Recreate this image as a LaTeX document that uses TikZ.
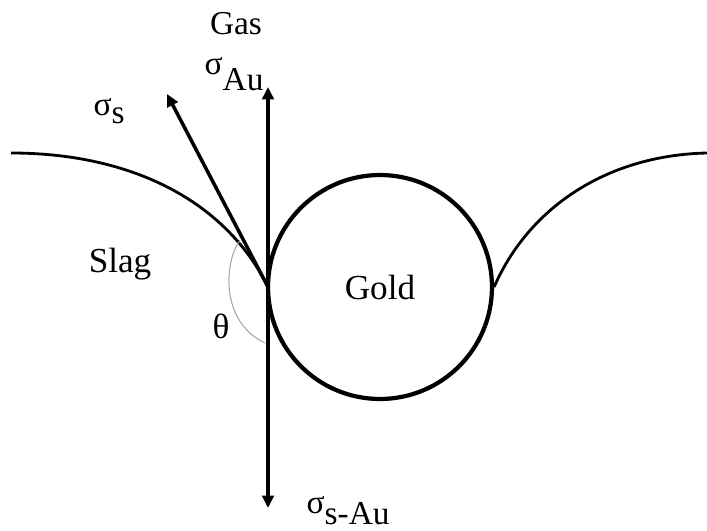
\documentclass[tikz,border=0pt]{standalone}
\usepackage{fontspec}
\setmainfont{Liberation Serif}
\usetikzlibrary{positioning, calc, arrows.meta}
\tikzset{every picture/.append style={thick}}
\tikzset{
  force/.style={line width=2pt, -{Triangle[length=7pt, width=6.5pt]}},
  surface/.style={line width=1.6pt},
  biglabel/.style={font=\fontsize{20}{22}\selectfont, inner sep=0pt},
  smalllabel/.style={font=\fontsize{19}{21}\selectfont, inner sep=0pt}
}

\begin{document}
\begin{tikzpicture}[x=0.02cm, y=-0.02cm, thick]
    \useasboundingbox (0,0) rectangle (707,531);

    % Contact point and arrow ends
    \coordinate (contact) at (268,287);
    \coordinate (tipAu) at (268,87);
    \coordinate (tipSAu) at (268,508);
    \coordinate (tipS) at (167,94);

    % Gold droplet
    \node[circle, draw, line width=2.4pt, minimum size=4.48cm, biglabel] (gold) at (380,287) {Gold};

    % Slag surface, left and right
    \draw[surface] (11,153) .. controls (130,153) and (225,200) .. (contact);
    \draw[surface] (gold.east) .. controls (530,205) and (610,155) .. (707,153);

    % Contact angle
    \draw[gray!70, line width=0.6pt] (240,240) .. controls (224,262) and (220,322) .. (265,343);
    \node[biglabel] (theta) at (221,326) {θ};

    % Tension vectors
    \draw[force] (contact) -- (tipAu);
    \draw[force] (contact) -- (tipSAu);
    \draw[force] (contact) -- (tipS);

    % Labels
    \node[smalllabel] (gas) at (236,24) {Gas};
    \node[smalllabel, anchor=base west] (sigAu) at (204,74) {σ\raisebox{-9.5pt}{Au}};
    \node[smalllabel, anchor=base west] (sigS) at (93,115) {σ\raisebox{-5pt}{s}};
    \node[smalllabel, anchor=base west] (sigSAu) at (306,513) {σ\raisebox{-6.5pt}{s-Au}};
    \node[biglabel] (slag) at (120,264) {Slag};
\end{tikzpicture}
\end{document}
